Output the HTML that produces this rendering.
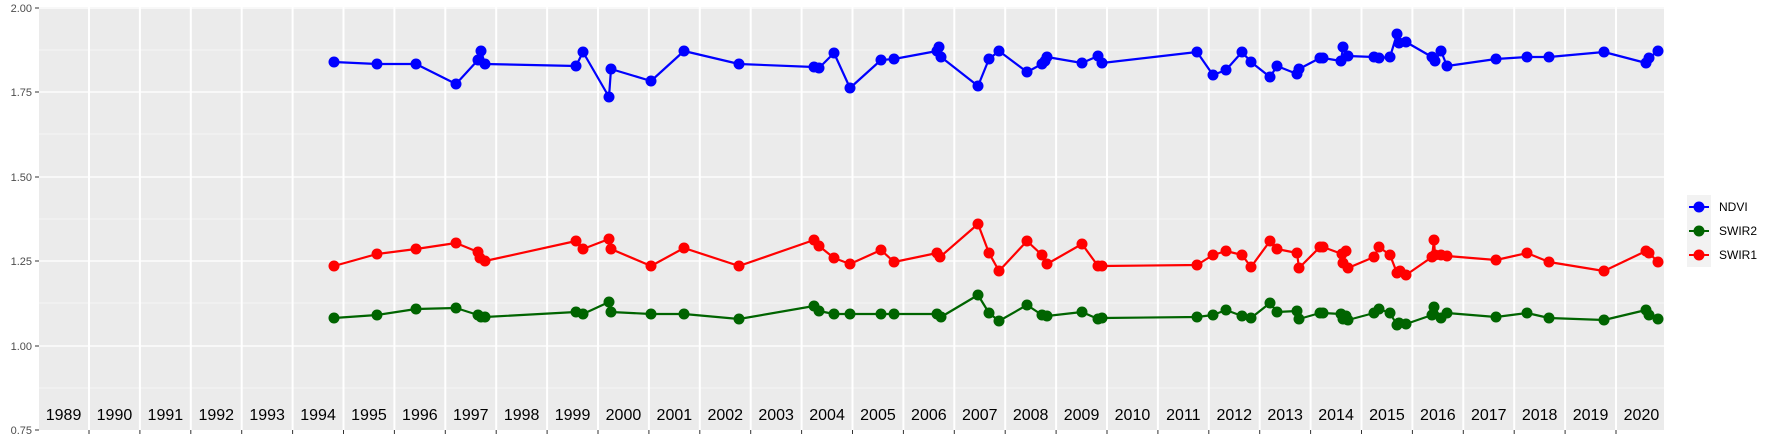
<!DOCTYPE html>
<html><head><meta charset="utf-8"><style>html,body{margin:0;padding:0;background:#fff}svg{display:block}</style></head><body>
<svg width="1773" height="442" xmlns="http://www.w3.org/2000/svg" font-family="Liberation Sans, sans-serif">
<rect x="0" y="0" width="1773" height="442" fill="#fff"/>
<rect x="39" y="7" width="1625" height="423" fill="#ebebeb"/>
<g stroke="#fff" stroke-width="0.6">
<line x1="39" x2="1664" y1="50" y2="50"/><line x1="39" x2="1664" y1="134" y2="134"/><line x1="39" x2="1664" y1="219" y2="219"/><line x1="39" x2="1664" y1="303" y2="303"/><line x1="39" x2="1664" y1="388" y2="388"/>
</g>
<g stroke="#fff" stroke-width="1.2">
<line x1="39" x2="1664" y1="8" y2="8"/><line x1="39" x2="1664" y1="92" y2="92"/><line x1="39" x2="1664" y1="177" y2="177"/><line x1="39" x2="1664" y1="261" y2="261"/><line x1="39" x2="1664" y1="346" y2="346"/>
</g>
<g id="vl" stroke="#fff" stroke-width="2"></g>
<g id="ticks" stroke="#333" stroke-width="1"></g>
<g id="yl" font-size="16" fill="#000" text-anchor="middle"></g>
<g font-size="11" fill="#4d4d4d" text-anchor="end">
<text x="32" y="12">2.00</text><text x="32" y="96">1.75</text><text x="32" y="181">1.50</text><text x="32" y="265">1.25</text><text x="32" y="350">1.00</text><text x="32" y="434">0.75</text>
</g>
<g stroke="#333" stroke-width="1">
<line x1="35" x2="39" y1="8" y2="8"/><line x1="35" x2="39" y1="92" y2="92"/><line x1="35" x2="39" y1="177" y2="177"/><line x1="35" x2="39" y1="261" y2="261"/><line x1="35" x2="39" y1="346" y2="346"/><line x1="35" x2="39" y1="430" y2="430"/>
</g>
<g id="series"></g>
<rect x="1687" y="195" width="24" height="72" fill="#f2f2f2"/>
<g stroke-width="2">
<line x1="1689" x2="1709" y1="207" y2="207" stroke="#0000ff"/><circle cx="1699" cy="207" r="5.5" fill="#0000ff"/>
<line x1="1689" x2="1709" y1="231" y2="231" stroke="#006400"/><circle cx="1699" cy="231" r="5.5" fill="#006400"/>
<line x1="1689" x2="1709" y1="255" y2="255" stroke="#ff0000"/><circle cx="1699" cy="255" r="5.5" fill="#ff0000"/>
</g>
<g font-size="12" fill="#000">
<text x="1719" y="211">NDVI</text><text x="1719" y="235">SWIR2</text><text x="1719" y="259">SWIR1</text>
</g>
</svg>
<script>
var NS="http://www.w3.org/2000/svg";
function el(p,t,a,txt){var e=document.createElementNS(NS,t);for(var k in a)e.setAttribute(k,a[k]);if(txt)e.textContent=txt;document.getElementById(p).appendChild(e);}
for(var k=0;k<32;k++){var x=38.1+k*50.9;
 if(k>0){el("vl","line",{x1:x,x2:x,y1:7,y2:430});el("ticks","line",{x1:x,x2:x,y1:430,y2:434});}
 el("yl","text",{x:x+25.45,y:420},String(1989+k));}
var N=[[334,62],[377,64],[416,64],[456,84],[478,60],[481,51],[485,64],[576,66],[583,52],[609,97],[611,69],[651,81],[684,51],[739,64],[814,67],[819,68],[834,53],[850,88],[881,60],[894,59],[937,51],[939,47],[941,57],[978,86],[989,59],[999,51],[1027,72],[1042,64],[1045,61],[1047,57],[1082,63],[1098,56],[1102,63],[1197,52],[1213,75],[1226,70],[1242,52],[1251,62],[1270,77],[1277,66],[1297,74],[1299,69],[1320,58],[1323,58],[1341,61],[1343,47],[1348,56],[1374,57],[1379,58],[1390,57],[1397,34],[1399,43],[1406,42],[1432,57],[1435,61],[1441,51],[1447,66],[1496,59],[1527,57],[1549,57],[1604,52],[1646,63],[1649,58],[1658,51]];
var R=[[334,266],[377,254],[416,249],[456,243],[478,252],[480,258],[485,261],[576,241],[583,249],[609,239],[611,249],[651,266],[684,248],[739,266],[814,240],[819,246],[834,258],[850,264],[881,250],[894,262],[937,253],[940,257],[978,224],[989,253],[999,271],[1027,241],[1042,255],[1047,264],[1082,244],[1098,266],[1102,266],[1197,265],[1213,255],[1226,251],[1242,255],[1251,267],[1270,241],[1277,249],[1297,253],[1299,268],[1320,247],[1323,247],[1342,254],[1346,251],[1343,263],[1348,268],[1374,257],[1379,247],[1390,255],[1397,273],[1400,271],[1406,275],[1432,257],[1434,240],[1435,255],[1441,255],[1447,256],[1496,260],[1527,253],[1549,262],[1604,271],[1646,251],[1649,253],[1658,262]];
var G=[[334,318],[377,315],[416,309],[456,308],[478,315],[481,317],[485,317],[576,312],[583,314],[609,302],[611,312],[651,314],[684,314],[739,319],[814,306],[819,311],[834,314],[850,314],[881,314],[894,314],[937,314],[941,317],[978,295],[989,313],[999,321],[1027,305],[1042,315],[1047,316],[1082,312],[1098,319],[1102,318],[1197,317],[1213,315],[1226,310],[1242,316],[1251,318],[1270,303],[1277,312],[1297,311],[1299,319],[1320,313],[1323,313],[1341,314],[1346,316],[1343,319],[1348,320],[1374,313],[1379,309],[1390,313],[1397,325],[1399,323],[1406,324],[1432,315],[1434,307],[1441,318],[1447,313],[1496,317],[1527,313],[1549,318],[1604,320],[1646,310],[1649,315],[1658,319]];
function draw(d,c){el("series","polyline",{points:d.map(function(p){return p.join(",")}).join(" "),fill:"none",stroke:c,"stroke-width":2.2,"stroke-linejoin":"round"});
 d.forEach(function(p){el("series","circle",{cx:p[0],cy:p[1],r:5.5,fill:c});});}
draw(N,"#0000ff");draw(G,"#006400");draw(R,"#ff0000");
</script>
</body></html>
